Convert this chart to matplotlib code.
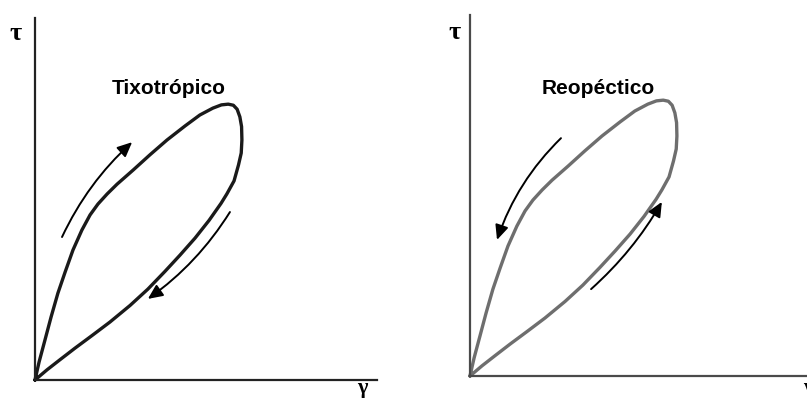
import matplotlib
matplotlib.use('Agg')
import matplotlib.pyplot as plt

# hysteresis loop (shear rate gamma, shear stress tau), arbitrary units
loop_gamma = [0.00, 0.12, 0.29, 0.47, 0.67, 0.88, 1.11, 1.37, 1.61, 1.84,
              2.11, 2.40, 2.87, 3.36, 3.86, 4.39, 4.82, 5.20, 5.45, 5.65,
              5.80, 5.91, 5.99, 6.04, 6.05, 6.03, 5.95, 5.82, 5.61, 5.44,
              5.09, 4.68, 4.24, 3.80, 3.30, 2.78, 2.19, 1.67, 1.17, 0.73,
              0.35, 0.00]
loop_tau = [0.00, 0.50, 1.10, 1.74, 2.40, 2.98, 3.59, 4.14, 4.56, 4.86,
            5.14, 5.41, 5.80, 6.22, 6.63, 7.02, 7.32, 7.51, 7.60, 7.62,
            7.59, 7.48, 7.27, 7.00, 6.63, 6.27, 5.94, 5.50, 5.14, 4.88,
            4.41, 3.92, 3.45, 3.00, 2.51, 2.06, 1.60, 1.23, 0.88, 0.56,
            0.28, 0.00]

titles = ['Tixotrópico', 'Reopéctico']
title_pos = [(3.92, 7.89), (3.75, 7.78)]
loop_colors = ['#1a1a1a', '#6e6e6e']
spine_colors = ['#222222', '#4a4a4a']

# direction arrows: (tail, head, curvature)
arrows = [
    [((0.79, 3.95), (2.84, 6.57), -0.10), ((5.70, 4.64), (3.30, 2.24), -0.10)],
    [((2.66, 6.57), (0.79, 3.76), 0.12), ((3.54, 2.40), (5.61, 4.81), 0.08)],
]

W, H = 807, 399
fig = plt.figure(figsize=(W / 100, H / 100), dpi=100)

# axes boxes in pixels: left, top, width, height
boxes = [(35, 18, 342, 362), (470, 15, 360, 361)]
ylabel_pos = [(-0.058, 0.957), (-0.042, 0.951)]
xlabel_pos = [(0.956, -0.022), (0.939, -0.033)]

for i, (x0, y0, w, h) in enumerate(boxes):
    ax = fig.add_axes([x0 / W, 1 - (y0 + h) / H, w / W, h / H])
    ax.set_xlim(0, w / 34.2)
    ax.set_ylim(0, h / 36.2)
    for side in ['top', 'right']:
        ax.spines[side].set_visible(False)
    for side in ['left', 'bottom']:
        ax.spines[side].set_linewidth(1.6)
        ax.spines[side].set_color(spine_colors[i])
    ax.set_xticks([])
    ax.set_yticks([])
    ax.patch.set_alpha(0)

    ax.plot(loop_gamma, loop_tau, color=loop_colors[i], lw=2.4,
            solid_joinstyle='round', solid_capstyle='round', clip_on=False)

    for tail, head, rad in arrows[i]:
        ax.annotate('', xy=head, xytext=tail,
                    arrowprops=dict(arrowstyle='-|>,head_length=0.55,head_width=0.25',
                                    mutation_scale=16, color='black', lw=1.4,
                                    shrinkA=0, shrinkB=0,
                                    connectionstyle=f'arc3,rad={rad}'))

    ax.text(title_pos[i][0], title_pos[i][1], titles[i], ha='center', va='baseline',
            fontsize=15, fontweight='bold', family='Liberation Sans')

    ax.text(*ylabel_pos[i], 'τ', transform=ax.transAxes, ha='center', va='center',
            fontsize=19, fontweight='bold', family='Liberation Serif', clip_on=False)
    ax.text(*xlabel_pos[i], 'γ', transform=ax.transAxes, ha='center', va='center',
            fontsize=16, fontweight='bold', family='Liberation Serif', clip_on=False)

fig.savefig('out.png', dpi=100)
